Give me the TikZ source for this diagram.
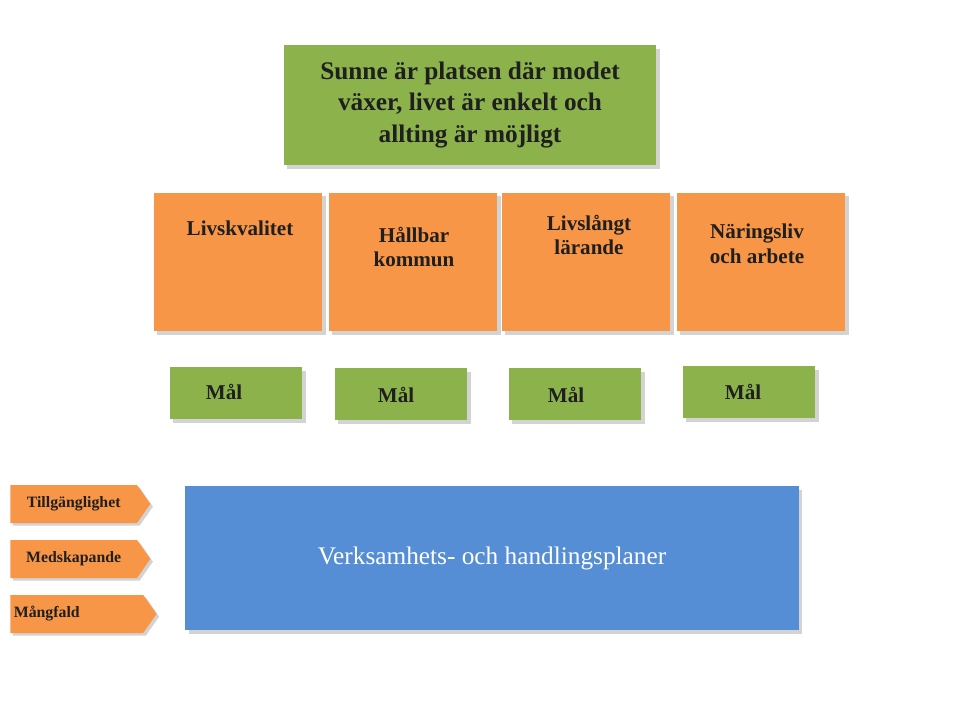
\documentclass[tikz,border=0pt]{standalone}
\usepackage{fontspec}
\setmainfont{Liberation Serif}
\usetikzlibrary{shadows,shapes.symbols,positioning}

\definecolor{visiongreen}{HTML}{8CB34B}
\definecolor{areaorange}{HTML}{F79646}
\definecolor{planblue}{HTML}{558ED5}
\definecolor{textdark}{HTML}{1F1F1F}

\tikzset{
  box/.style={draw=none, drop shadow={opacity=0.35, shadow xshift=2pt, shadow yshift=-2pt},
    inner sep=0pt, text=textdark, font=\bfseries, align=center},
  areabox/.style={box, fill=areaorange, minimum width=3.38cm, minimum height=2.78cm, font=\bfseries\large},
  goalbox/.style={box, fill=visiongreen, minimum width=2.66cm, minimum height=1.04cm, font=\bfseries\large},
  tagbox/.style={signal, signal to=east, signal pointer angle=110, fill=areaorange, draw=none,
    drop shadow={opacity=0.35, shadow xshift=1.5pt, shadow yshift=-1.5pt},
    minimum width=2.8cm, minimum height=0.76cm, inner sep=2pt, text=textdark, font=\bfseries\small, anchor=west}
}

\begin{document}
\begin{tikzpicture}[x=0.02cm, y=-0.02cm]
\useasboundingbox (0,0) rectangle (960,720);

% Vision
\node[box, fill=visiongreen, minimum width=7.46cm, minimum height=2.4cm, font=\bfseries\Large] (vision) at (470,105)
  {Sunne är platsen där modet\\växer, livet är enkelt och\\allting är möjligt};

% Focus areas
\node[areabox] (area1) at (238,262) {};
\node[areabox] (area2) at (413,262) {};
\node[areabox] (area3) at (586,262) {};
\node[areabox] (area4) at (761,262) {};
\node[font=\bfseries\large, text=textdark] at (240,228) {Livskvalitet};
\node[font=\bfseries\large, text=textdark, align=center] at (414,247) {Hållbar\\kommun};
\node[font=\bfseries\large, text=textdark, align=center] at (589,235) {Livslångt\\lärande};
\node[font=\bfseries\large, text=textdark, align=center] at (757,244) {Näringsliv\\och arbete};

% Goals
\node[goalbox] (goal1) at (236,393) {};
\node[goalbox] (goal2) at (401,394) {};
\node[goalbox] (goal3) at (575,394) {};
\node[goalbox] (goal4) at (749,392) {};
\node[font=\bfseries\large, text=textdark] at (224,392) {Mål};
\node[font=\bfseries\large, text=textdark] at (396,395) {Mål};
\node[font=\bfseries\large, text=textdark] at (566,395) {Mål};
\node[font=\bfseries\large, text=textdark] at (743,392) {Mål};

% Plans
\node[box, fill=planblue, minimum width=12.28cm, minimum height=2.88cm, font=\Large, text=white] (plans) at (492,558)
  {Verksamhets- och handlingsplaner};

% Values
\node[tagbox] (tag1) at (10,504) {Tillgänglighet};
\node[tagbox] (tag2) at (10,559) {Medskapande};
\node[tagbox] (tag3) at (10,614) {Mångfald\hspace*{1.2cm}};

\end{tikzpicture}
\end{document}
